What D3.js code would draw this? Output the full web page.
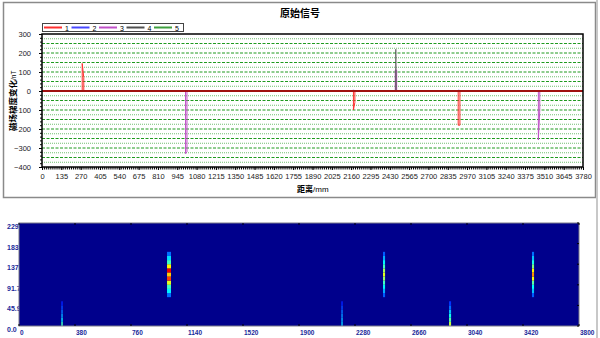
<!DOCTYPE html>
<html>
<head>
<meta charset="utf-8">
<script src="https://cdn.jsdelivr.net/npm/d3@7"></script>
<style>
  body { margin: 0; background: #fff; }
  svg { display: block; font-family: "Liberation Sans", Arial, sans-serif; }
</style>
</head>
<body>
<div id="chart"></div>
<script>
// ---- top chart data (distance mm, value nT) ----
var seriesNames = ["1", "2", "3", "4", "5"];
var seriesColors = ["#ff3030", "#4848ff", "#c050c8", "#505050", "#40a040"];

var sig1 = [[0, 0], [281, 0], [281, 145], [292, 70], [292, 0], [2176, 0], [2176, -100], [2186, -60], [2186, 0],
            [2908, 0], [2908, -180], [2920, -180], [2920, 0], [3780, 0]];
var sig2 = [[0, 0], [2170, 0], [2176, 6], [2182, 0], [2906, 0], [2912, 6], [2918, 0], [3780, 0]];
var sig3 = [[0, 0], [1003, 0], [1003, -330], [1013, -320], [1013, 0], [2468, 0], [2468, 110], [2478, 110], [2478, 0],
            [3468, 0], [3468, -258], [3478, -100], [3478, 0], [3780, 0]];
var sig4 = [[0, 0], [2472, 0], [2472, 220], [2474, 0], [3780, 0]];
var sig5 = [[0, 0], [3780, 0]];
var signals = [sig1, sig2, sig3, sig4, sig5];

var topXTicks = d3.range(0, 3781, 135);
var topYTicks = [300, 200, 100, 0, -100, -200, -300, -400];

// ---- bottom heatmap data ----
var heatXTicks = [0, 380, 760, 1140, 1520, 1900, 2280, 2660, 3040, 3420, 3800];
var heatYTicks = ["0.0", "45.9", "91.7", "137.6", "183.5", "229.4"];
var heatRowStep = 9.176;
var heatX = [292, 1018, 2192, 2477, 2925, 3488];
var heatW = [10, 27, 10, 14, 14, 14];
var heatStartRow = [0, 7, 0, 7, 0, 7];
var heatProfiles = [
  [0.42, 0.33, 0.27, 0.22, 0.18, 0.14],
  [0.22, 0.35, 0.42, 0.58, 0.8, 0.66, 0.88, 0.62, 0.42, 0.33, 0.22],
  [0.3, 0.28, 0.25, 0.22, 0.18, 0.14],
  [0.2, 0.28, 0.35, 0.42, 0.5, 0.58, 0.52, 0.42, 0.35, 0.28, 0.2],
  [0.55, 0.45, 0.38, 0.3, 0.22, 0.16],
  [0.2, 0.3, 0.36, 0.45, 0.6, 0.72, 0.62, 0.48, 0.38, 0.3, 0.22]
];
var jetStops = [0, 0.11, 0.36, 0.61, 0.86, 1];
var jetColors = ["#00008c", "#0000ff", "#00ffff", "#ffff00", "#ff0000", "#800000"];

var svg = d3.select("#chart").append("svg")
  .attr("width", 600)
  .attr("height", 338);

// outer panel frame of top chart
svg.append("rect")
  .attr("x", 3.5).attr("y", 2.5).attr("width", 592).attr("height", 195)
  .attr("fill", "none").attr("stroke", "#8a8a8a").attr("stroke-width", 1.5);
svg.append("line")
  .attr("x1", 597).attr("x2", 597).attr("y1", 0).attr("y2", 338)
  .attr("stroke", "#c8c8c8").attr("stroke-width", 2);

// ---------- top chart ----------
var x = d3.scaleLinear().domain([0, 3780]).range([42, 583]);
var y = d3.scaleLinear().domain([-400, 300]).range([167, 34]);

svg.append("text")
  .attr("x", 300).attr("y", 17)
  .attr("text-anchor", "middle")
  .style("font-family", "'Noto Sans CJK SC'")
  .style("font-weight", "bold")
  .style("font-size", "10px")
  .text("原始信号");

// gridlines
var grid = svg.append("g");
d3.range(-375, 300, 25).forEach(function(v) {
  var major = v % 50 === 0;
  grid.append("line")
    .attr("x1", x(0)).attr("x2", x(3780))
    .attr("y1", y(v)).attr("y2", y(v))
    .attr("stroke", major ? "#1f9a1f" : "#72c072")
    .attr("stroke-width", 1)
    .attr("stroke-dasharray", major ? "3,1.5" : "1,1");
});

// signals
var line = d3.line().x(d => x(d[0])).y(d => y(d[1]));
signals.forEach(function(s, i) {
  svg.append("path")
    .datum(s)
    .attr("d", line)
    .attr("fill", "none")
    .attr("stroke", seriesColors[i])
    .attr("stroke-opacity", i === 3 ? 0.75 : 1)
    .attr("stroke-width", 1);
});
svg.append("line")
  .attr("x1", x(0)).attr("x2", x(3780))
  .attr("y1", y(0)).attr("y2", y(0))
  .attr("stroke", "#a01010").attr("stroke-width", 2);

// frame
svg.append("rect")
  .attr("x", 42).attr("y", 34).attr("width", 541).attr("height", 133)
  .attr("fill", "none").attr("stroke", "#000").attr("stroke-width", 1.5);

// axes
var xAxis = svg.append("g")
  .attr("transform", "translate(0,167)")
  .call(d3.axisBottom(x).tickValues(topXTicks).tickSize(3).tickPadding(4).tickFormat(d3.format("d")));
xAxis.select(".domain").remove();
xAxis.selectAll("text").style("font-size", "7.5px").attr("fill", "#222");

var xMinor = svg.append("g")
  .attr("transform", "translate(0,167)")
  .call(d3.axisBottom(x).tickValues(d3.range(0, 3781, 13.5)).tickSize(2.5).tickFormat(""));
xMinor.select(".domain").remove();

var yAxis = svg.append("g")
  .attr("transform", "translate(42,0)")
  .call(d3.axisLeft(y).tickValues(topYTicks).tickSize(3).tickPadding(8));
yAxis.select(".domain").remove();
yAxis.selectAll("text").style("font-size", "7.5px").attr("fill", "#222");

var yMinor = svg.append("g")
  .attr("transform", "translate(42,0)")
  .call(d3.axisLeft(y).tickValues(d3.range(-400, 301, 20)).tickSize(2).tickFormat(""));
yMinor.select(".domain").remove();

// axis titles
var xt = svg.append("text")
  .attr("x", 297).attr("y", 192)
  .style("font-size", "8px");
xt.append("tspan").style("font-family", "'Noto Sans CJK SC'").style("font-weight", "bold").text("距离");
xt.append("tspan").text("/mm");

var yt = svg.append("text")
  .attr("transform", "translate(16,131) rotate(-90)")
  .style("font-size", "8.5px");
yt.append("tspan").style("font-family", "'Noto Sans CJK SC'").style("font-weight", "bold").text("磁场梯度变化");
yt.append("tspan").style("font-size", "6.5px").text("/nT");

// legend
var legend = svg.append("g").attr("transform", "translate(42,23)");
legend.append("rect")
  .attr("x", 0.5).attr("y", 0.5).attr("width", 141).attr("height", 8)
  .attr("fill", "#fff").attr("stroke", "#444").attr("stroke-width", 1);
seriesNames.forEach(function(n, i) {
  var g = legend.append("g").attr("transform", "translate(" + (2 + i * 27.5) + ",0)");
  g.append("line")
    .attr("x1", 0).attr("x2", 18).attr("y1", 4.5).attr("y2", 4.5)
    .attr("stroke", seriesColors[i]).attr("stroke-width", 2);
  g.append("text")
    .attr("x", 21).attr("y", 7.5)
    .style("font-size", "7px")
    .text(n);
});

// ---------- bottom heatmap ----------
var hx = d3.scaleLinear().domain([0, 3800]).range([19, 579]);
var hy = d3.scaleLinear().domain([0, 229.4]).range([326, 223]);
var jet = d3.scaleLinear().domain(jetStops).range(jetColors);

heatYTicks.forEach(function(t) {
  svg.append("text")
    .attr("x", 7).attr("y", hy(+t) + 6)
    .style("font-size", "7px").style("font-weight", "bold")
    .attr("fill", "#1a2a9a")
    .text(t);
});

svg.append("rect")
  .attr("x", hx(0)).attr("y", hy(229.4))
  .attr("width", hx(3800) - hx(0)).attr("height", hy(0) - hy(229.4))
  .attr("fill", jet(0));

heatX.forEach(function(cx, i) {
  heatProfiles[i].forEach(function(v, j) {
    var r = heatStartRow[i] + j;
    svg.append("rect")
      .attr("x", hx(cx - heatW[i] / 2))
      .attr("width", hx(heatW[i]) - hx(0))
      .attr("y", hy((r + 1) * heatRowStep))
      .attr("height", hy(0) - hy(heatRowStep))
      .attr("fill", jet(v));
  });
});

// heatmap border and ticks
svg.append("rect")
  .attr("x", hx(0)).attr("y", hy(229.4))
  .attr("width", hx(3800) - hx(0)).attr("height", hy(0) - hy(229.4))
  .attr("fill", "none").attr("stroke", "#7a7a8a").attr("stroke-width", 1);

heatXTicks.forEach(function(t) {
  svg.append("line")
    .attr("x1", hx(t)).attr("x2", hx(t)).attr("y1", hy(229.4)).attr("y2", hy(229.4) + 2)
    .attr("stroke", "#000");
  svg.append("line")
    .attr("x1", hx(t)).attr("x2", hx(t)).attr("y1", hy(0)).attr("y2", hy(0) - 2)
    .attr("stroke", "#000");
  svg.append("text")
    .attr("x", hx(t) + 1).attr("y", 335)
    .style("font-size", "6.5px").style("font-weight", "bold")
    .attr("fill", "#1a2a9a")
    .text(t);
});
heatYTicks.forEach(function(t) {
  svg.append("line")
    .attr("x1", hx(3800)).attr("x2", hx(3800) - 2).attr("y1", hy(+t)).attr("y2", hy(+t))
    .attr("stroke", "#000");
});
</script>
</body>
</html>
